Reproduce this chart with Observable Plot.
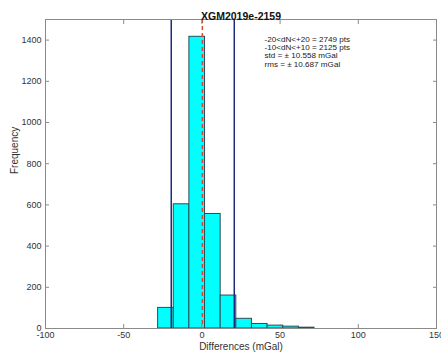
<!DOCTYPE html>
<html>
<head>
<meta charset="utf-8">
<script src="https://cdn.jsdelivr.net/npm/d3@7"></script>
<script src="https://cdn.jsdelivr.net/npm/@observablehq/plot@0.6"></script>
<style>
  html, body { margin: 0; padding: 0; background: #fff; }
  #chart svg { display: block; }
</style>
</head>
<body>
<div id="chart"></div>
<script>
const chartTitle = "XGM2019e-2159";
const binStart = [-28, -18, -8, 2, 12, 22, 32, 42, 52, 62];
const binWidth = 10;
const counts = [100, 603, 1416, 556, 160, 47, 22, 14, 9, 4];
const meanLine = [0.3];
const limitLines = [-19.6, 20.7];
const xTicks = [-100, -50, 0, 50, 100, 150];
const yTicks = [0, 200, 400, 600, 800, 1000, 1200, 1400];
const statsLines = [
  "-20<dN<+20 = 2749 pts",
  "-10<dN<+10 = 2125 pts",
  "std = \u00b1 10.558 mGal",
  "rms = \u00b1 10.687 mGal"
];
const statsPos = {x: 40, y: 1420};
const xLabel = "Differences (mGal)";
const yLabel = "Frequency";

const bins = binStart.map((s, i) => ({x1: s, x2: s + binWidth, y: counts[i]}));

const font = "Liberation Sans, Arial, Helvetica, sans-serif";
const txt = "#333333";
const fmt = d => String(d);

const chart = Plot.plot({
  width: 441,
  height: 358,
  marginLeft: 45,
  marginRight: 5,
  marginTop: 19,
  marginBottom: 30,
  style: {fontFamily: font, fontSize: "9px", color: txt, background: "#fff"},
  x: {domain: [-100, 150]},
  y: {domain: [0, 1500]},
  marks: [
    Plot.rectY(bins, {x1: "x1", x2: "x2", y: "y", fill: "#00FFFF", stroke: "#2d4d55", strokeWidth: 1, inset: 0}),
    Plot.ruleX(limitLines, {stroke: "#1f2a7a", strokeWidth: 1.5}),
    Plot.ruleX(meanLine, {stroke: "#d9463e", strokeWidth: 1.5, strokeDasharray: "4,3"}),
    Plot.frame({stroke: "#8a8a8a"}),
    Plot.axisX({anchor: "bottom", ticks: xTicks, tickFormat: fmt, tickSize: -4, tickPadding: 7, label: null, stroke: "#8a8a8a", fill: txt}),
    Plot.axisX({anchor: "top", ticks: xTicks, tickSize: -4, tickFormat: () => "", label: null, stroke: "#8a8a8a"}),
    Plot.axisY({anchor: "left", ticks: yTicks, tickFormat: fmt, tickSize: -4, tickPadding: 8, label: null, stroke: "#8a8a8a", fill: txt}),
    Plot.axisY({anchor: "right", ticks: yTicks, tickSize: -4, tickFormat: () => "", label: null, stroke: "#8a8a8a"}),
    Plot.text([statsLines.join("\n")], {x: () => statsPos.x, y: () => statsPos.y, textAnchor: "start", lineAnchor: "top", fontSize: 8.1, lineHeight: 1.02, fill: "#222"}),
    Plot.text([chartTitle], {frameAnchor: "top", dy: -6.5, fontSize: 10.5, fontWeight: "bold", fill: "#111"}),
    Plot.text([xLabel], {frameAnchor: "bottom", dy: 21.7, fontSize: 10, fill: txt}),
    Plot.text([yLabel], {frameAnchor: "left", dx: -31, rotate: -90, fontSize: 10, fill: txt})
  ]
});
document.getElementById("chart").appendChild(chart);
</script>
</body>
</html>
